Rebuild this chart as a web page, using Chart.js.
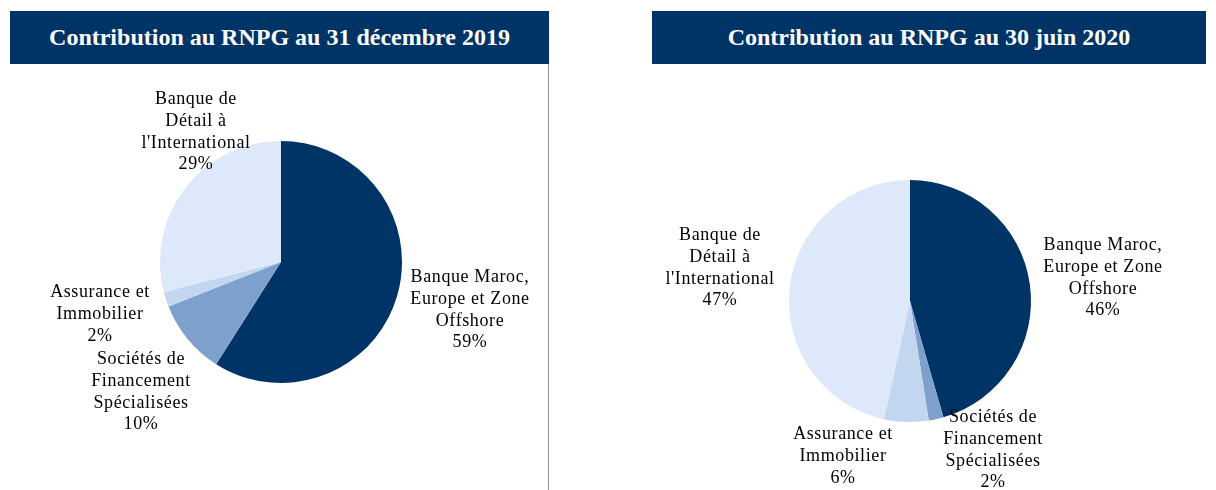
<!DOCTYPE html>
<html>
<head>
<meta charset="utf-8">
<script src="https://cdn.jsdelivr.net/npm/chart.js@4/dist/chart.umd.min.js"></script>
<style>
  body { margin: 0; background: #fff; width: 1216px; height: 490px; position: relative; overflow: hidden; }
  .head {
    position: absolute; top: 11px; height: 53px; background: #003366; color: #fff;
    font: bold 24px "Liberation Serif", "Times New Roman", serif;
    display: flex; align-items: center; justify-content: center;
  }
  .box { position: absolute; }
  #sep { position: absolute; left: 548px; top: 64px; height: 426px; border-left: 1px solid #8f8f8f; }
</style>
</head>
<body>
<div class="head" style="left:10px;width:539px;">Contribution au RNPG au 31 décembre 2019</div>
<div class="head" style="left:652px;width:554px;">Contribution au RNPG au 30 juin 2020</div>
<div id="sep"></div>
<div class="box" style="left:0;top:70px;width:549px;height:420px;"><canvas id="c1"></canvas></div>
<div class="box" style="left:550px;top:70px;width:666px;height:420px;"><canvas id="c2"></canvas></div>
<script>
// categories (each split in lines as printed)
const categories = [
  ["Banque Maroc,", "Europe et Zone", "Offshore"],
  ["Sociétés de", "Financement", "Spécialisées"],
  ["Assurance et", "Immobilier"],
  ["Banque de", "Détail à", "l'International"]
];
const values2019 = [59, 10, 2, 29];
const values2020 = [46, 2, 6, 47];
const colors = ["#003366", "#7ea0cd", "#c3d6ef", "#dde8fb"];

// label block offsets from pie centre (px)
const labelPos2019 = [[189, 48], [-140, 130], [-181, 52], [-85, -130]];
const labelPos2020 = [[193, -23], [83, 149], [-67, 155], [-190, -33]];

const labelPlugin = {
  id: "outLabels",
  afterDatasetsDraw(chart, args, opts) {
    const ctx = chart.ctx;
    const meta = chart.getDatasetMeta(0);
    const vals = chart.data.datasets[0].data;
    ctx.save();
    ctx.font = '18px "Liberation Serif", "Times New Roman", serif';
    ctx.letterSpacing = "0.6px";
    ctx.fillStyle = "#000";
    ctx.textAlign = "center";
    ctx.textBaseline = "middle";
    const lh = 21.8;
    meta.data.forEach((arc, i) => {
      const lines = categories[i].concat([vals[i] + "%"]);
      const cx = arc.x + opts.pos[i][0];
      const cy = arc.y + opts.pos[i][1];
      const y0 = cy - (lines.length - 1) * lh / 2;
      lines.forEach((t, k) => ctx.fillText(t, cx, y0 + k * lh));
    });
    ctx.restore();
  }
};

function makePie(id, values, pos, pad) {
  return new Chart(document.getElementById(id), {
    type: "pie",
    data: {
      labels: categories.map(c => c.join(" ")),
      datasets: [{
        data: values,
        backgroundColor: colors,
        borderWidth: 0,
        hoverOffset: 0
      }]
    },
    options: {
      responsive: true,
      maintainAspectRatio: false,
      animation: false,
      layout: { padding: pad },
      plugins: {
        legend: { display: false },
        tooltip: { enabled: false },
        outLabels: { pos: pos }
      }
    },
    plugins: [labelPlugin]
  });
}

makePie("c1", values2019, labelPos2019, { left: 160, right: 147, top: 71, bottom: 107 });
makePie("c2", values2020, labelPos2020, { left: 239, right: 185, top: 110, bottom: 68 });
</script>
</body>
</html>
